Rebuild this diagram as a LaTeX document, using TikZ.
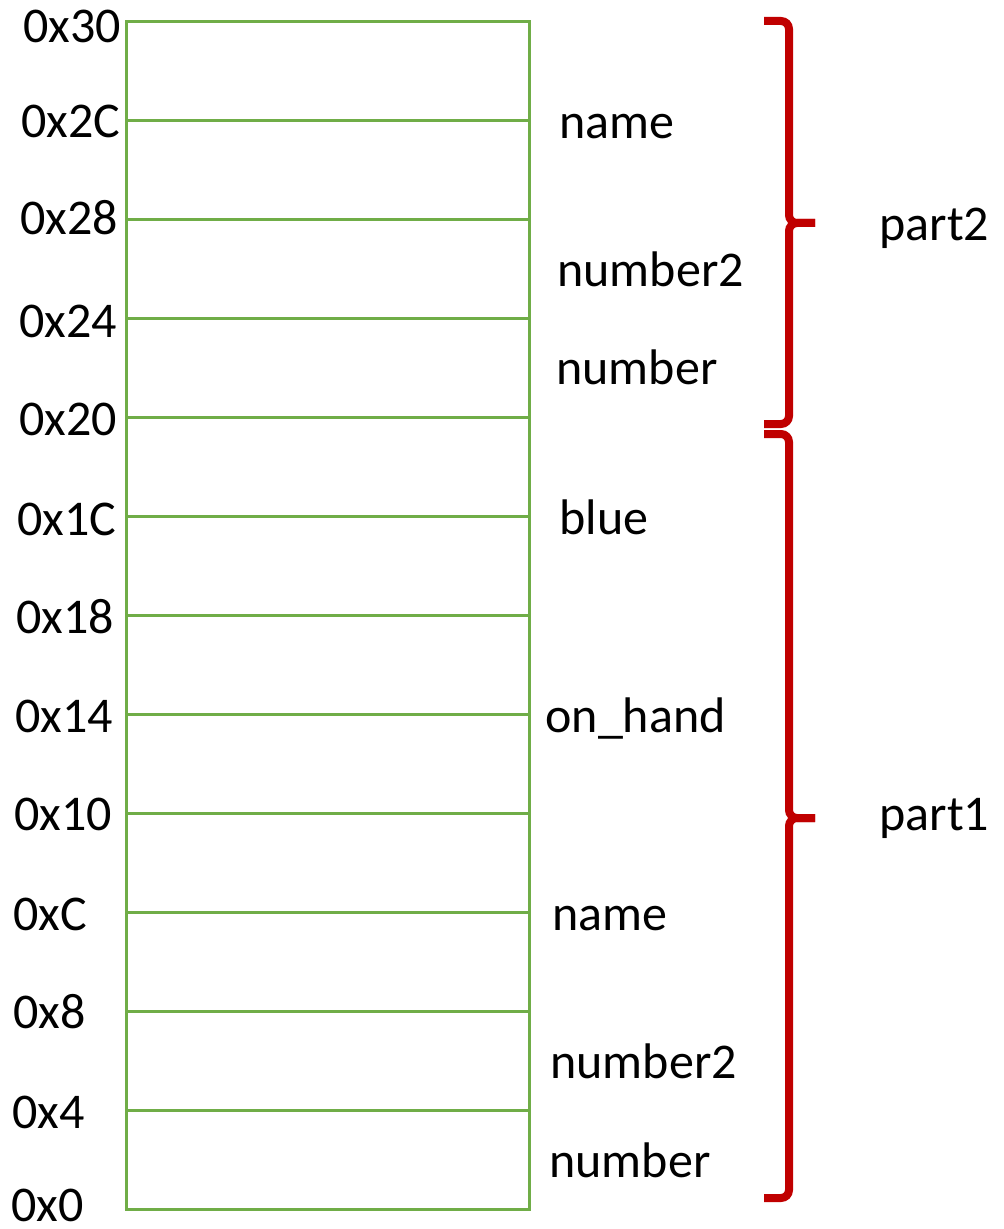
\documentclass[tikz,border=0pt]{standalone}
\usepackage{fontspec}
\setmainfont{Carlito}
\definecolor{cellgreen}{HTML}{70AD47}
\definecolor{bracered}{HTML}{C00000}
\tikzset{
  cell/.style={draw=cellgreen, line width=1.5pt},
  addr/.style={anchor=base west, inner sep=0pt, font=\fontsize{25}{30}\selectfont},
  field/.style={addr},
  brace/.style={draw=bracered, line width=4pt, rounded corners=4pt},
}
\begin{document}
\begin{tikzpicture}[x=0.5pt, y=-0.5pt]
  \useasboundingbox (0,0) rectangle (1003,1229);

  % memory column: 12 words of 4 bytes
  \coordinate (memtl) at (126,22);
  \coordinate (membr) at (529,1209);
  \draw[cell] (memtl) rectangle (membr);
  \foreach \i in {1,...,11} {
    \draw[cell] (126,{22+98.92*\i}) -- (529,{22+98.92*\i});
  }

  % addresses
  \foreach \txt/\x/\y/\nm in {0x30/23/43/a30, 0x2C/21/138/a2C, 0x28/20/235/a28,
      0x24/19/338/a24, 0x20/19/435/a20, 0x1C/17/535/a1C, 0x18/16/633/a18,
      0x14/15/732/a14, 0x10/14/830/a10, 0xC/13/930/aC, 0x8/13/1028/a8,
      0x4/12/1128/a4, 0x0/11/1221/a0} {
    \node[addr] (\nm) at (\x,\y) {\txt};
  }

  % field names
  \node[field] (f2name)  at (559,139)  {name};
  \node[field] (f2num2)  at (557,287)  {number2};
  \node[field] (f2num)   at (556,385)  {number};
  \node[field] (fblue)   at (559,534)  {blue};
  \node[field] (fonhand) at (545,732)  {on\_hand};
  \node[field] (f1name)  at (552,930)  {name};
  \node[field] (f1num2)  at (550,1078) {number2};
  \node[field] (f1num)   at (549,1177) {number};

  % braces
  \coordinate (p2top) at (764,21);
  \coordinate (p2tip) at (815,223);
  \coordinate (p2bot) at (764,424);
  \draw[brace] (p2top) -| (789,223) -- (p2tip);
  \draw[brace] (p2tip) -- (789,223) |- (p2bot);

  \coordinate (p1top) at (764,434);
  \coordinate (p1tip) at (815,818);
  \coordinate (p1bot) at (764,1198);
  \draw[brace] (p1top) -| (789,818) -- (p1tip);
  \draw[brace] (p1tip) -- (789,818) |- (p1bot);

  \node[field] (part2) at (879,241) {part2};
  \node[field] (part1) at (879,830) {part1};
\end{tikzpicture}
\end{document}
